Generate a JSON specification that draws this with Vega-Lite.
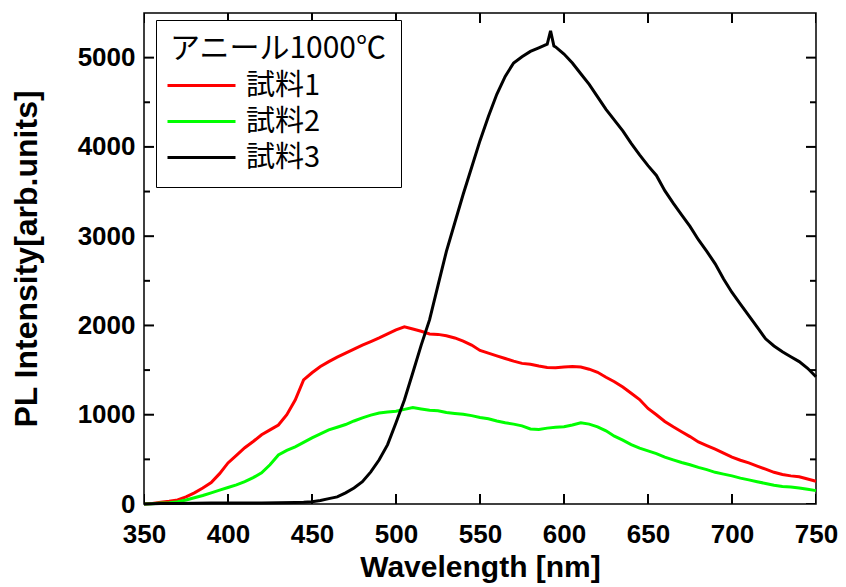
{
  "$schema": "https://vega.github.io/schema/vega-lite/v6.json",
  "width": 672,
  "height": 491,
  "autosize": {"type": "none"},
  "padding": {"left": 144, "top": 13, "right": 30, "bottom": 83},
  "background": "white",
  "config": {
    "view": {"stroke": "black", "strokeWidth": 1.5},
    "axis": {
      "domain": false,
      "grid": false,
      "ticks": false,
      "tickSize": 0,
      "labelFont": "Liberation Sans",
      "labelFontWeight": "bold",
      "labelFontSize": 26,
      "labelColor": "black",
      "labelFlush": false,
      "titleFont": "Liberation Sans",
      "titleFontWeight": "bold",
      "titleColor": "black"
    }
  },
  "datasets": {
    "xticks": [{"v": 350}, {"v": 400}, {"v": 450}, {"v": 500}, {"v": 550}, {"v": 600}, {"v": 650}, {"v": 700}, {"v": 750}],
    "ymajor": [{"v": 0}, {"v": 1000}, {"v": 2000}, {"v": 3000}, {"v": 4000}, {"v": 5000}],
    "yminor": [{"v": 500}, {"v": 1500}, {"v": 2500}, {"v": 3500}, {"v": 4500}],
    "spectra": [
      {"nm": 350, "I": 0, "series": "試料1"}, {"nm": 355, "I": 5, "series": "試料1"}, {"nm": 360, "I": 20, "series": "試料1"}, {"nm": 365, "I": 30, "series": "試料1"}, {"nm": 370, "I": 45, "series": "試料1"}, {"nm": 375, "I": 80, "series": "試料1"}, {"nm": 380, "I": 125, "series": "試料1"}, {"nm": 385, "I": 180, "series": "試料1"}, {"nm": 390, "I": 240, "series": "試料1"}, {"nm": 395, "I": 340, "series": "試料1"}, {"nm": 400, "I": 460, "series": "試料1"}, {"nm": 405, "I": 545, "series": "試料1"}, {"nm": 410, "I": 630, "series": "試料1"}, {"nm": 415, "I": 700, "series": "試料1"}, {"nm": 420, "I": 775, "series": "試料1"}, {"nm": 425, "I": 830, "series": "試料1"}, {"nm": 430, "I": 885, "series": "試料1"}, {"nm": 435, "I": 1000, "series": "試料1"}, {"nm": 440, "I": 1165, "series": "試料1"}, {"nm": 445, "I": 1390, "series": "試料1"}, {"nm": 450, "I": 1470, "series": "試料1"}, {"nm": 455, "I": 1540, "series": "試料1"}, {"nm": 460, "I": 1595, "series": "試料1"}, {"nm": 465, "I": 1645, "series": "試料1"}, {"nm": 470, "I": 1690, "series": "試料1"}, {"nm": 475, "I": 1735, "series": "試料1"}, {"nm": 480, "I": 1780, "series": "試料1"}, {"nm": 485, "I": 1820, "series": "試料1"}, {"nm": 490, "I": 1860, "series": "試料1"}, {"nm": 495, "I": 1905, "series": "試料1"}, {"nm": 500, "I": 1950, "series": "試料1"}, {"nm": 505, "I": 1985, "series": "試料1"}, {"nm": 510, "I": 1960, "series": "試料1"}, {"nm": 515, "I": 1935, "series": "試料1"}, {"nm": 520, "I": 1905, "series": "試料1"}, {"nm": 525, "I": 1900, "series": "試料1"}, {"nm": 530, "I": 1885, "series": "試料1"}, {"nm": 535, "I": 1860, "series": "試料1"}, {"nm": 540, "I": 1825, "series": "試料1"}, {"nm": 545, "I": 1780, "series": "試料1"}, {"nm": 550, "I": 1720, "series": "試料1"}, {"nm": 555, "I": 1690, "series": "試料1"}, {"nm": 560, "I": 1660, "series": "試料1"}, {"nm": 565, "I": 1630, "series": "試料1"}, {"nm": 570, "I": 1600, "series": "試料1"}, {"nm": 575, "I": 1575, "series": "試料1"}, {"nm": 580, "I": 1565, "series": "試料1"}, {"nm": 585, "I": 1545, "series": "試料1"}, {"nm": 590, "I": 1530, "series": "試料1"}, {"nm": 595, "I": 1525, "series": "試料1"}, {"nm": 600, "I": 1535, "series": "試料1"}, {"nm": 605, "I": 1540, "series": "試料1"}, {"nm": 610, "I": 1535, "series": "試料1"}, {"nm": 615, "I": 1510, "series": "試料1"}, {"nm": 620, "I": 1475, "series": "試料1"}, {"nm": 625, "I": 1420, "series": "試料1"}, {"nm": 630, "I": 1370, "series": "試料1"}, {"nm": 635, "I": 1310, "series": "試料1"}, {"nm": 640, "I": 1240, "series": "試料1"}, {"nm": 645, "I": 1170, "series": "試料1"}, {"nm": 650, "I": 1070, "series": "試料1"}, {"nm": 655, "I": 1000, "series": "試料1"}, {"nm": 660, "I": 925, "series": "試料1"}, {"nm": 665, "I": 865, "series": "試料1"}, {"nm": 670, "I": 810, "series": "試料1"}, {"nm": 675, "I": 755, "series": "試料1"}, {"nm": 680, "I": 695, "series": "試料1"}, {"nm": 685, "I": 655, "series": "試料1"}, {"nm": 690, "I": 615, "series": "試料1"}, {"nm": 695, "I": 570, "series": "試料1"}, {"nm": 700, "I": 525, "series": "試料1"}, {"nm": 705, "I": 490, "series": "試料1"}, {"nm": 710, "I": 460, "series": "試料1"}, {"nm": 715, "I": 425, "series": "試料1"}, {"nm": 720, "I": 390, "series": "試料1"}, {"nm": 725, "I": 355, "series": "試料1"}, {"nm": 730, "I": 330, "series": "試料1"}, {"nm": 735, "I": 315, "series": "試料1"}, {"nm": 740, "I": 305, "series": "試料1"}, {"nm": 745, "I": 280, "series": "試料1"}, {"nm": 750, "I": 255, "series": "試料1"},

      {"nm": 350, "I": 0, "series": "試料2"}, {"nm": 355, "I": 3, "series": "試料2"}, {"nm": 360, "I": 10, "series": "試料2"}, {"nm": 365, "I": 15, "series": "試料2"}, {"nm": 370, "I": 25, "series": "試料2"}, {"nm": 375, "I": 45, "series": "試料2"}, {"nm": 380, "I": 70, "series": "試料2"}, {"nm": 385, "I": 95, "series": "試料2"}, {"nm": 390, "I": 125, "series": "試料2"}, {"nm": 395, "I": 155, "series": "試料2"}, {"nm": 400, "I": 185, "series": "試料2"}, {"nm": 405, "I": 215, "series": "試料2"}, {"nm": 410, "I": 250, "series": "試料2"}, {"nm": 415, "I": 295, "series": "試料2"}, {"nm": 420, "I": 350, "series": "試料2"}, {"nm": 425, "I": 440, "series": "試料2"}, {"nm": 430, "I": 550, "series": "試料2"}, {"nm": 435, "I": 600, "series": "試料2"}, {"nm": 440, "I": 640, "series": "試料2"}, {"nm": 445, "I": 690, "series": "試料2"}, {"nm": 450, "I": 740, "series": "試料2"}, {"nm": 455, "I": 785, "series": "試料2"}, {"nm": 460, "I": 830, "series": "試料2"}, {"nm": 465, "I": 860, "series": "試料2"}, {"nm": 470, "I": 890, "series": "試料2"}, {"nm": 475, "I": 930, "series": "試料2"}, {"nm": 480, "I": 965, "series": "試料2"}, {"nm": 485, "I": 995, "series": "試料2"}, {"nm": 490, "I": 1020, "series": "試料2"}, {"nm": 495, "I": 1030, "series": "試料2"}, {"nm": 500, "I": 1040, "series": "試料2"}, {"nm": 505, "I": 1060, "series": "試料2"}, {"nm": 510, "I": 1080, "series": "試料2"}, {"nm": 515, "I": 1065, "series": "試料2"}, {"nm": 520, "I": 1050, "series": "試料2"}, {"nm": 525, "I": 1045, "series": "試料2"}, {"nm": 530, "I": 1025, "series": "試料2"}, {"nm": 535, "I": 1015, "series": "試料2"}, {"nm": 540, "I": 1005, "series": "試料2"}, {"nm": 545, "I": 990, "series": "試料2"}, {"nm": 550, "I": 970, "series": "試料2"}, {"nm": 555, "I": 955, "series": "試料2"}, {"nm": 560, "I": 930, "series": "試料2"}, {"nm": 565, "I": 910, "series": "試料2"}, {"nm": 570, "I": 895, "series": "試料2"}, {"nm": 575, "I": 875, "series": "試料2"}, {"nm": 580, "I": 840, "series": "試料2"}, {"nm": 585, "I": 835, "series": "試料2"}, {"nm": 590, "I": 850, "series": "試料2"}, {"nm": 595, "I": 860, "series": "試料2"}, {"nm": 600, "I": 865, "series": "試料2"}, {"nm": 605, "I": 885, "series": "試料2"}, {"nm": 610, "I": 910, "series": "試料2"}, {"nm": 615, "I": 895, "series": "試料2"}, {"nm": 620, "I": 865, "series": "試料2"}, {"nm": 625, "I": 820, "series": "試料2"}, {"nm": 630, "I": 760, "series": "試料2"}, {"nm": 635, "I": 715, "series": "試料2"}, {"nm": 640, "I": 665, "series": "試料2"}, {"nm": 645, "I": 625, "series": "試料2"}, {"nm": 650, "I": 595, "series": "試料2"}, {"nm": 655, "I": 565, "series": "試料2"}, {"nm": 660, "I": 525, "series": "試料2"}, {"nm": 665, "I": 495, "series": "試料2"}, {"nm": 670, "I": 465, "series": "試料2"}, {"nm": 675, "I": 440, "series": "試料2"}, {"nm": 680, "I": 410, "series": "試料2"}, {"nm": 685, "I": 385, "series": "試料2"}, {"nm": 690, "I": 355, "series": "試料2"}, {"nm": 695, "I": 335, "series": "試料2"}, {"nm": 700, "I": 315, "series": "試料2"}, {"nm": 705, "I": 290, "series": "試料2"}, {"nm": 710, "I": 270, "series": "試料2"}, {"nm": 715, "I": 250, "series": "試料2"}, {"nm": 720, "I": 230, "series": "試料2"}, {"nm": 725, "I": 210, "series": "試料2"}, {"nm": 730, "I": 195, "series": "試料2"}, {"nm": 735, "I": 190, "series": "試料2"}, {"nm": 740, "I": 180, "series": "試料2"}, {"nm": 745, "I": 165, "series": "試料2"}, {"nm": 750, "I": 150, "series": "試料2"},

      {"nm": 350, "I": 0, "series": "試料3"}, {"nm": 360, "I": 5, "series": "試料3"}, {"nm": 370, "I": 5, "series": "試料3"}, {"nm": 380, "I": 8, "series": "試料3"}, {"nm": 390, "I": 10, "series": "試料3"}, {"nm": 400, "I": 12, "series": "試料3"}, {"nm": 410, "I": 12, "series": "試料3"}, {"nm": 420, "I": 12, "series": "試料3"}, {"nm": 430, "I": 15, "series": "試料3"}, {"nm": 440, "I": 18, "series": "試料3"}, {"nm": 445, "I": 20, "series": "試料3"}, {"nm": 450, "I": 25, "series": "試料3"}, {"nm": 455, "I": 40, "series": "試料3"}, {"nm": 460, "I": 60, "series": "試料3"}, {"nm": 465, "I": 80, "series": "試料3"}, {"nm": 470, "I": 125, "series": "試料3"}, {"nm": 475, "I": 180, "series": "試料3"}, {"nm": 480, "I": 250, "series": "試料3"}, {"nm": 485, "I": 360, "series": "試料3"}, {"nm": 490, "I": 495, "series": "試料3"}, {"nm": 495, "I": 665, "series": "試料3"}, {"nm": 500, "I": 910, "series": "試料3"}, {"nm": 505, "I": 1165, "series": "試料3"}, {"nm": 510, "I": 1470, "series": "試料3"}, {"nm": 515, "I": 1780, "series": "試料3"}, {"nm": 520, "I": 2065, "series": "試料3"}, {"nm": 525, "I": 2450, "series": "試料3"}, {"nm": 530, "I": 2830, "series": "試料3"}, {"nm": 535, "I": 3150, "series": "試料3"}, {"nm": 540, "I": 3470, "series": "試料3"}, {"nm": 545, "I": 3770, "series": "試料3"}, {"nm": 550, "I": 4070, "series": "試料3"}, {"nm": 555, "I": 4340, "series": "試料3"}, {"nm": 560, "I": 4590, "series": "試料3"}, {"nm": 565, "I": 4790, "series": "試料3"}, {"nm": 570, "I": 4940, "series": "試料3"}, {"nm": 575, "I": 5010, "series": "試料3"}, {"nm": 580, "I": 5070, "series": "試料3"}, {"nm": 585, "I": 5110, "series": "試料3"}, {"nm": 590, "I": 5150, "series": "試料3"}, {"nm": 592, "I": 5300, "series": "試料3"}, {"nm": 594, "I": 5130, "series": "試料3"}, {"nm": 595, "I": 5120, "series": "試料3"}, {"nm": 600, "I": 5040, "series": "試料3"}, {"nm": 605, "I": 4940, "series": "試料3"}, {"nm": 610, "I": 4820, "series": "試料3"}, {"nm": 615, "I": 4700, "series": "試料3"}, {"nm": 620, "I": 4560, "series": "試料3"}, {"nm": 625, "I": 4420, "series": "試料3"}, {"nm": 630, "I": 4300, "series": "試料3"}, {"nm": 635, "I": 4180, "series": "試料3"}, {"nm": 640, "I": 4040, "series": "試料3"}, {"nm": 645, "I": 3910, "series": "試料3"}, {"nm": 650, "I": 3790, "series": "試料3"}, {"nm": 655, "I": 3680, "series": "試料3"}, {"nm": 660, "I": 3510, "series": "試料3"}, {"nm": 665, "I": 3370, "series": "試料3"}, {"nm": 670, "I": 3240, "series": "試料3"}, {"nm": 675, "I": 3110, "series": "試料3"}, {"nm": 680, "I": 2960, "series": "試料3"}, {"nm": 685, "I": 2830, "series": "試料3"}, {"nm": 690, "I": 2690, "series": "試料3"}, {"nm": 695, "I": 2520, "series": "試料3"}, {"nm": 700, "I": 2370, "series": "試料3"}, {"nm": 705, "I": 2240, "series": "試料3"}, {"nm": 710, "I": 2110, "series": "試料3"}, {"nm": 715, "I": 1980, "series": "試料3"}, {"nm": 720, "I": 1850, "series": "試料3"}, {"nm": 725, "I": 1770, "series": "試料3"}, {"nm": 730, "I": 1705, "series": "試料3"}, {"nm": 735, "I": 1650, "series": "試料3"}, {"nm": 740, "I": 1595, "series": "試料3"}, {"nm": 745, "I": 1520, "series": "試料3"}, {"nm": 750, "I": 1425, "series": "試料3"}
    ]
  },
  "layer": [
    {
      "data": {"name": "spectra"},
      "mark": {"type": "line", "strokeWidth": 3},
      "encoding": {
        "x": {"field": "nm", "type": "quantitative", "scale": {"domain": [350, 750], "nice": false},
          "axis": {"orient": "bottom", "values": [350, 400, 450, 500, 550, 600, 650, 700, 750], "labelPadding": 17, "format": "d",
            "title": "Wavelength [nm]", "titleFontSize": 30, "titlePadding": 5}},
        "y": {"field": "I", "type": "quantitative", "scale": {"domain": [0, 5500], "nice": false},
          "axis": {"orient": "left", "values": [0, 1000, 2000, 3000, 4000, 5000], "labelPadding": 9, "format": "d",
            "title": "PL Intensity[arb.units]", "titleFontSize": 32, "titlePadding": 34}},
        "color": {"field": "series", "type": "nominal",
          "scale": {"domain": ["試料1", "試料2", "試料3"], "range": ["#ff0000", "#00ff00", "#000000"]},
          "legend": {
            "title": "アニール1000℃", "orient": "none", "legendX": 12, "legendY": 7,
            "strokeColor": "black", "fillColor": "white", "padding": 14,
            "titleFont": "Noto Sans CJK JP", "titleFontWeight": "normal", "titleFontSize": 30, "titleColor": "black", "titlePadding": 7, "titleLimit": 400,
            "labelFont": "Noto Sans CJK JP", "labelFontSize": 29, "labelColor": "black", "labelOffset": 47, "labelLimit": 300,
            "symbolType": "M-1.5,0H4.5", "symbolSize": 514, "symbolStrokeWidth": 3, "rowPadding": 6
          }}
      }
    },
    {
      "data": {"name": "xticks"},
      "mark": {"type": "tick", "orient": "vertical", "size": 20, "thickness": 2, "color": "black", "opacity": 1, "clip": true},
      "encoding": {
        "x": {"field": "v", "type": "quantitative"},
        "y": {"datum": 0, "type": "quantitative"}
      }
    },
    {
      "data": {"name": "xticks"},
      "mark": {"type": "tick", "orient": "vertical", "size": 20, "thickness": 2, "color": "black", "opacity": 1, "clip": true},
      "encoding": {
        "x": {"field": "v", "type": "quantitative"},
        "y": {"datum": 5500, "type": "quantitative"}
      }
    },
    {
      "data": {"name": "ymajor"},
      "mark": {"type": "tick", "orient": "horizontal", "size": 20, "thickness": 2, "color": "black", "opacity": 1, "clip": true},
      "encoding": {
        "y": {"field": "v", "type": "quantitative"},
        "x": {"datum": 350, "type": "quantitative"}
      }
    },
    {
      "data": {"name": "ymajor"},
      "mark": {"type": "tick", "orient": "horizontal", "size": 20, "thickness": 2, "color": "black", "opacity": 1, "clip": true},
      "encoding": {
        "y": {"field": "v", "type": "quantitative"},
        "x": {"datum": 750, "type": "quantitative"}
      }
    },
    {
      "data": {"name": "yminor"},
      "mark": {"type": "tick", "orient": "horizontal", "size": 12, "thickness": 2, "color": "black", "opacity": 1, "clip": true},
      "encoding": {
        "y": {"field": "v", "type": "quantitative"},
        "x": {"datum": 350, "type": "quantitative"}
      }
    },
    {
      "data": {"name": "yminor"},
      "mark": {"type": "tick", "orient": "horizontal", "size": 12, "thickness": 2, "color": "black", "opacity": 1, "clip": true},
      "encoding": {
        "y": {"field": "v", "type": "quantitative"},
        "x": {"datum": 750, "type": "quantitative"}
      }
    }
  ]
}
